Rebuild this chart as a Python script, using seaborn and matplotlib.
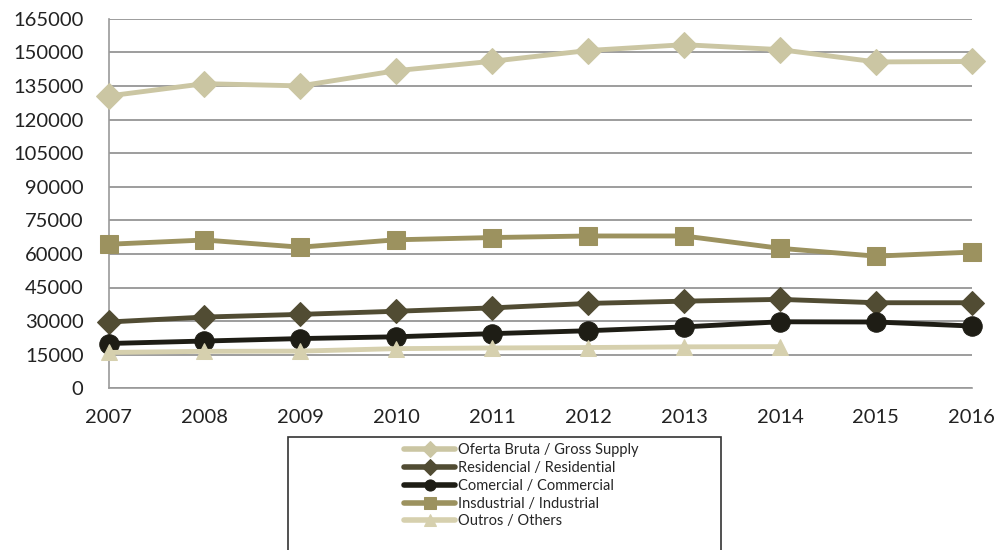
import pandas as pd
import matplotlib.pyplot as plt
import seaborn as sns
from matplotlib.patches import Rectangle

years = [2007, 2008, 2009, 2010, 2011, 2012, 2013, 2014, 2015, 2016]
gross_supply = [130500, 136000, 135000, 141800, 146000, 150800, 153400, 151200, 145700, 145900]
residential = [29600, 31800, 33000, 34400, 35900, 37900, 38900, 39700, 38200, 38200]
commercial = [20000, 21100, 22200, 23000, 24400, 25700, 27400, 29700, 29600, 27800]
industrial = [64300, 66200, 63000, 66300, 67300, 68000, 68000, 62500, 59000, 60800]
others = [16000, 16500, 16600, 17700, 18000, 18200, 18500, 18600, None, None]

labels = ["Oferta Bruta / Gross Supply", "Residencial / Residential",
          "Comercial / Commercial", "Insdustrial / Industrial", "Outros / Others"]
series = [gross_supply, residential, commercial, industrial, others]
colors = ["#CBC6A3", "#514C33", "#1E1D15", "#9C925F", "#D6D0AE"]
markers = ["D", "D", "o", "s", "^"]
msizes = [13, 12, 14, 13, 12]
draw_order = [4, 0, 3, 1, 2]

sns.set_style("white")
plt.rcParams["font.family"] = ["Lato", "DejaVu Sans"]

fig = plt.figure(figsize=(10.05, 5.5), dpi=100)
ax = fig.add_axes([0.108, 0.294, 0.859, 0.672])

handles = {}
for i in draw_order:
    df = pd.DataFrame({"year": years, "value": series[i]}).dropna()
    sns.lineplot(data=df, x="year", y="value", ax=ax, color=colors[i],
                 marker=markers[i], markersize=msizes[i], linewidth=3.5,
                 markeredgecolor=colors[i], label=labels[i], zorder=3 + i,
                 clip_on=False)
    handles[i] = ax.get_lines()[-1]

ax.set_xlim(2007, 2016)
ax.set_ylim(0, 165000)
ax.set_yticks(range(0, 165001, 15000))
ax.set_xticks(years)
ax.set_xlabel("")
ax.set_ylabel("")
ax.yaxis.grid(True, color="#8C8C8C", linewidth=1.2)
ax.set_axisbelow(True)
for s in ["top", "right"]:
    ax.spines[s].set_visible(False)
for s in ["left", "bottom"]:
    ax.spines[s].set_color("#9A9A9A")
    ax.spines[s].set_linewidth(1.2)
ax.tick_params(axis="both", labelsize=14.5, labelcolor="#222222", length=6,
               width=1.2, color="#9A9A9A")
ax.tick_params(axis="y", pad=12)
ax.tick_params(axis="x", pad=9)
ax.get_legend().remove()

leg = fig.legend([handles[i] for i in range(5)], labels, loc="upper left",
                 bbox_to_anchor=(0.402, 0.194), frameon=False,
                 fontsize=10.5, handlelength=3.5, handletextpad=0.2,
                 labelspacing=0.26, borderaxespad=0, borderpad=0)
for h in leg.legend_handles:
    h.set_markersize(8)
    h.set_linewidth(4)

fig.add_artist(Rectangle((0.287, -0.05), 0.43, 0.256,
                         transform=fig.transFigure, fill=False,
                         edgecolor="#333333", linewidth=1.2))

fig.savefig("out.png", dpi=100)
